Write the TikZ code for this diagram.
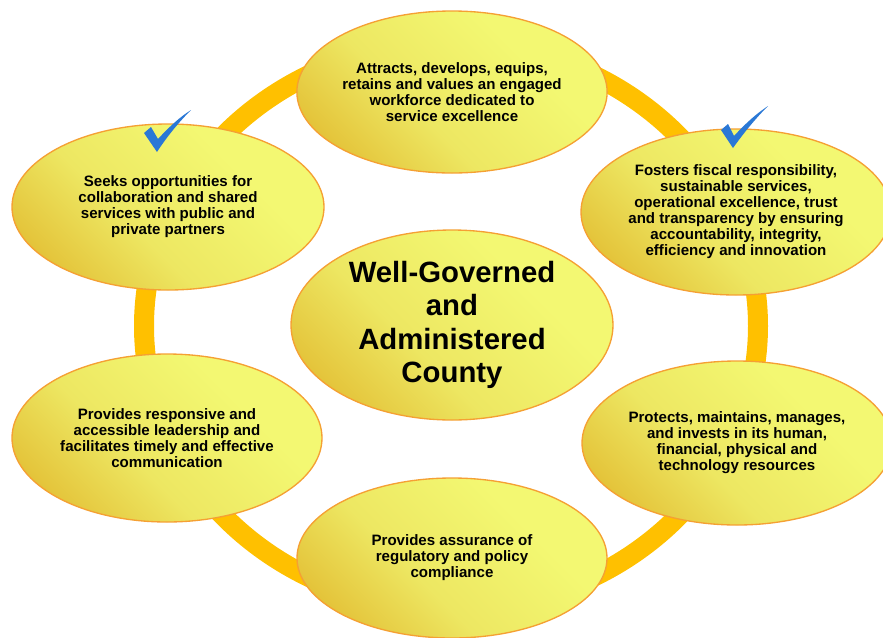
\documentclass[tikz,border=0pt]{standalone}
\usepackage{fontspec}
\setmainfont{Liberation Sans}
\usetikzlibrary{shapes.geometric}
\definecolor{ringc}{HTML}{FFC000}
\definecolor{edgec}{HTML}{F5A033}
\definecolor{lightY}{HTML}{F3F872}
\definecolor{midY}{HTML}{EDE762}
\definecolor{darkY}{HTML}{E0B428}
\definecolor{checkc}{HTML}{2A78D6}
\pgfdeclarehorizontalshading{ovalshade}{100bp}{color(0bp)=(darkY); color(16bp)=(darkY); color(42bp)=(midY); color(66bp)=(lightY); color(100bp)=(lightY)}
\tikzset{
  oval/.style={ellipse, draw=edgec, line width=1pt, inner sep=0pt,
    shading=ovalshade, shading angle=45,
    align=center, text=black, font=\bfseries\fontsize{11.3}{12}\selectfont},
  ring/.style={draw=ringc, line width=15pt},
  tick/.style={fill=checkc, draw=none}
}
\begin{document}
\begin{tikzpicture}[x=0.75pt,y=-0.75pt]
\useasboundingbox (0,0) rectangle (883,637);
\fill[white] (0,0) rectangle (883,637);
\draw[ring] (451,326) ellipse [x radius=307, y radius=283];

\node[oval, minimum width=232.5pt, minimum height=121.5pt] (top) at (452,92)
  {Attracts, develops, equips,\\retains and values an engaged\\workforce dedicated to\\service excellence};
\node[oval, minimum width=232.5pt, minimum height=124.5pt] (tr) at (736,212)
  {Fosters fiscal responsibility,\\sustainable services,\\operational excellence, trust\\and transparency by ensuring\\accountability, integrity,\\efficiency and innovation};
\node[oval, minimum width=234pt, minimum height=124.5pt] (tl) at (168,207)
  {Seeks opportunities for\\collaboration and shared\\services with public and\\private partners};
\node[oval, minimum width=241.5pt, minimum height=142.5pt,
      font=\bfseries\fontsize{22}{25}\selectfont] (ctr) at (452,325)
  {Well-Governed\\and\\Administered\\County};
\node[oval, minimum width=232.5pt, minimum height=126pt] (bl) at (167,438)
  {Provides responsive and\\accessible leadership and\\facilitates timely and effective\\communication};
\node[oval, minimum width=232.5pt, minimum height=123pt] (br) at (737,443)
  {Protects, maintains, manages,\\and invests in its human,\\financial, physical and\\technology resources};
\node[oval, minimum width=232.5pt, minimum height=120pt] (bot) at (452,558)
  {Provides assurance of\\regulatory and policy\\compliance};

% check marks
\fill[tick] (144,133) -- (151,127) -- (158,139) .. controls (170,126) and (180,117) .. (191,110)
  .. controls (178,123) and (166,138) .. (157,152) -- cycle;
\fill[tick] (721,130) -- (728,124) -- (734,136) .. controls (746,123) and (756,114) .. (768,106)
  .. controls (755,119) and (743,134) .. (733,148) -- cycle;
\end{tikzpicture}
\end{document}
